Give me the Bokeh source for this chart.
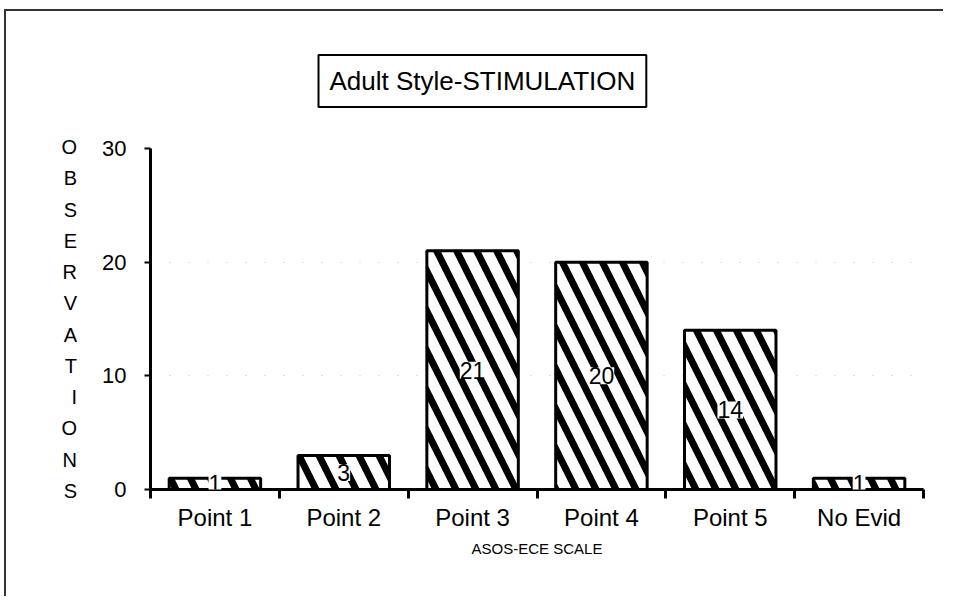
from bokeh.plotting import figure
from bokeh.models import ColumnDataSource, LabelSet, FixedTicker, Range1d
from bokeh.core.properties import value
from bokeh.embed import file_html
from bokeh.resources import INLINE

# ---- data ----
categories = ["Point 1", "Point 2", "Point 3", "Point 4", "Point 5", "No Evid"]
observations = [1, 3, 21, 20, 14, 1]
y_ticks = [0, 10, 20, 30]
title_text = "Adult Style-STIMULATION"
x_title = "ASOS-ECE SCALE"
y_title = "OBSERVATIONS"

FONT = "Liberation Sans"
n = len(categories)
centers = [i + 0.5 for i in range(n)]
boundaries = list(range(n + 1))

src = ColumnDataSource(dict(
    x=centers,
    top=observations,
    mid=[v / 2 for v in observations],
    label=[str(v) for v in observations],
))

p = figure(width=939, height=587,
           x_range=Range1d(0, n), y_range=Range1d(0, max(y_ticks)),
           output_backend="svg", toolbar_location=None,
           min_border_left=144, min_border_right=22,
           min_border_top=135, min_border_bottom=109)
p.outline_line_color = None
p.background_fill_color = "white"
p.border_fill_color = "white"
p.styles = {"border-top": "2px solid #333", "border-left": "2px solid #333",
            "margin-top": "9px", "margin-left": "4px"}

xa = p.below[0]
ya = p.left[0]

# boxed title
p.title.text = title_text
p.title.align = "left"
p.title.offset = 168
p.title.standoff = 83
p.title.text_font = FONT
p.title.text_font_size = "26px"
p.title.text_font_style = "normal"
p.title.text_color = "black"
p.title.background_fill_color = "white"
p.title.border_line_color = "black"
p.title.border_line_width = 2
p.title.padding = 11

# bars
p.vbar(x="x", top="top", width=0.71, source=src,
       fill_color="white", line_color="black", line_width=3,
       hatch_pattern="\\", hatch_scale=40, hatch_weight=7, hatch_color="black")

# value labels
p.add_layout(LabelSet(x="x", y="mid", text="label", source=src,
                      text_align="center", text_baseline="middle",
                      text_font=value(FONT), text_font_size="23px", text_color="black",
                      background_fill_color="white", background_fill_alpha=1.0))

# x axis
xa.ticker = FixedTicker(ticks=centers, minor_ticks=boundaries)
xa.major_label_overrides = {c: cat for c, cat in zip(centers, categories)}
xa.major_tick_out = 0
xa.major_tick_in = 0
xa.minor_tick_out = 9
xa.minor_tick_in = 0
xa.minor_tick_line_width = 3
xa.axis_line_width = 3
xa.major_label_standoff = 5
xa.major_label_text_font = FONT
xa.major_label_text_font_size = "24px"
xa.major_label_text_color = "black"
xa.axis_label = x_title
xa.axis_label_text_font = FONT
xa.axis_label_text_font_size = "15px"
xa.axis_label_text_font_style = "normal"
xa.axis_label_text_color = "black"
xa.axis_label_standoff = 6

# y axis
ya.ticker = FixedTicker(ticks=y_ticks)
ya.axis_line_width = 3
ya.major_tick_out = 6
ya.major_tick_in = 0
ya.major_tick_line_width = 2
ya.minor_tick_out = 0
ya.minor_tick_in = 0
ya.major_label_standoff = 18
ya.major_label_text_font = FONT
ya.major_label_text_font_size = "22px"
ya.major_label_text_color = "black"
ya.axis_label = "\n".join(y_title)
ya.axis_label_orientation = "horizontal"
ya.axis_label_text_font = FONT
ya.axis_label_text_font_size = "20px"
ya.axis_label_text_font_style = "normal"
ya.axis_label_text_color = "black"
ya.axis_label_text_line_height = 1.42
ya.axis_label_standoff = 22

# faint dotted grid
p.xgrid.visible = False
p.ygrid.ticker = FixedTicker(ticks=y_ticks[1:3])
p.ygrid.grid_line_color = "#999999"
p.ygrid.grid_line_dash = "1 18"
p.ygrid.grid_line_alpha = 0.6

open("out.html", "w").write(file_html(p, INLINE))
